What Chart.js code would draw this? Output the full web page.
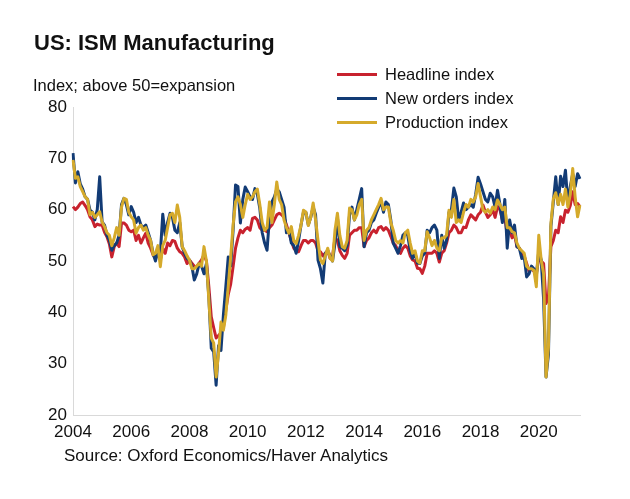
<!DOCTYPE html>
<html>
<head>
<meta charset="utf-8">
<script src="https://cdn.jsdelivr.net/npm/chart.js@4"></script>
<style>
  body { margin:0; background:#fff; font-family:"Liberation Sans", Arial, sans-serif; color:#111; }
  #wrap { position:relative; width:630px; height:499px; overflow:hidden; }
  #chart { position:absolute; left:0; top:0; }
  .txt { position:absolute; white-space:nowrap; }
  #title { left:34px; top:30px; font-size:22px; font-weight:bold; }
  #sub { left:33px; top:76px; font-size:16.5px; }
  #source { left:64px; top:446px; font-size:17px; }
  .leg { position:absolute; left:337px; font-size:16.5px; }
  .leg span { display:inline-block; width:40px; height:3px; vertical-align:middle; margin-right:8px; position:relative; top:-1px; }
</style>
</head>
<body>
<div id="wrap">
  <canvas id="chart" width="630" height="499"></canvas>
  <div class="txt" id="title">US: ISM Manufacturing</div>
  <div class="txt" id="sub">Index; above 50=expansion</div>
  <div class="leg" style="top:65px"><span style="background:#c8222e"></span>Headline index</div>
  <div class="leg" style="top:89px"><span style="background:#123b75"></span>New orders index</div>
  <div class="leg" style="top:113px"><span style="background:#d5aa2b"></span>Production index</div>
  <div class="txt" id="source">Source: Oxford Economics/Haver Analytics</div>
</div>
<script>
// monthly, Jan 2004 - Jun 2021
const years = [2004, 2005, 2006, 2007, 2008, 2009, 2010, 2011, 2012,
  2013, 2014, 2015, 2016, 2017, 2018, 2019, 2020, 2021]
const lastMonth = 6

const yTicks = [20, 30, 40, 50, 60, 70, 80]

const headline = [
  60.6, 60.0, 60.5, 61.2, 61.5, 60.8, 60.0, 58.6, 58.0, 56.7, 57.2, 57.0,
  57.0, 55.6, 54.7, 53.3, 50.8, 52.8, 53.5, 52.8, 57.4, 57.4, 57.0, 56.0,
  55.7, 56.0, 54.0, 55.0, 53.5, 54.5, 55.4, 53.5, 52.5, 51.2, 50.5, 51.5,
  50.2, 52.5, 51.5, 53.5, 53.0, 54.0, 53.8, 52.5, 51.8, 51.5, 50.8, 49.5,
  50.2, 49.6, 49.0, 48.9, 49.6, 50.2, 51.2, 50.0, 45.0, 39.1, 37.0, 35.0,
  35.5, 36.0, 37.0, 40.5, 43.5, 45.5, 48.9, 52.5, 54.5, 56.0, 55.5, 56.2,
  56.5, 56.0, 58.3, 58.5, 58.0, 56.5, 56.0, 56.0, 55.7, 56.5, 57.0, 58.0,
  59.0, 59.3, 59.0, 58.5, 57.0, 55.5, 54.0, 52.5, 52.0, 51.8, 53.0, 54.0,
  54.0, 53.5, 54.0, 54.0, 53.5, 52.0, 51.8, 51.0, 51.5, 52.0, 50.5, 51.0,
  54.5, 54.0, 52.0, 51.1, 50.5, 51.5, 55.0, 55.5, 56.0, 56.0, 56.5, 56.5,
  52.8, 54.0, 54.5, 55.5, 56.0, 55.5, 56.5, 56.7, 56.0, 56.5, 56.0, 54.8,
  53.5, 53.0, 52.0, 51.5, 52.5, 53.0, 52.5, 51.0, 50.2, 50.0, 48.6, 48.5,
  47.6, 49.0, 51.5, 51.5, 51.5, 52.0, 51.5, 49.8, 51.5, 52.0, 53.5, 55.5,
  56.0, 57.0, 56.5, 55.5, 55.5, 56.6, 56.5, 58.0, 59.0, 58.5, 58.0, 59.0,
  59.5, 60.9, 59.5, 58.5, 59.0, 60.0, 58.5, 60.6, 60.0, 58.0, 58.6, 55.0,
  56.0, 54.5, 55.2, 52.8, 52.5, 51.5, 51.0, 49.5, 48.0, 48.5, 48.0, 47.5,
  50.5, 50.0, 49.5, 41.7, 43.0, 52.8, 54.0, 56.0, 55.5, 58.6, 57.5, 59.9,
  59.5, 60.8, 63.5, 61.0, 61.2, 60.6
]

const newOrders = [
  71.0, 65.2, 67.4, 65.0, 64.0, 62.5, 62.0, 59.9, 59.5, 58.0, 60.0, 66.4,
  57.6, 57.0, 55.0, 54.0, 52.1, 53.0, 53.5, 55.0, 61.0, 62.2, 61.0, 59.0,
  60.6, 59.5, 57.5, 58.5, 57.0, 56.5, 57.0, 55.5, 54.0, 51.5, 50.0, 52.0,
  51.5, 59.1, 55.0, 57.5, 59.3, 58.5, 56.0, 55.5, 57.5, 52.8, 51.5, 50.5,
  50.2, 49.0, 46.3, 47.5, 49.5, 49.0, 47.5, 49.5, 43.0, 33.0, 32.3, 25.8,
  33.5, 32.6, 39.5, 45.0, 50.8, 49.0, 56.0, 64.8, 64.5, 57.4, 62.0, 64.4,
  63.5, 62.5, 62.0, 64.1, 63.0, 60.3, 55.5, 53.5, 52.1, 58.5, 61.5, 62.5,
  64.0, 63.5, 62.0, 60.5, 55.5, 56.0, 53.5, 53.0, 51.5, 54.0, 57.0, 59.5,
  59.5, 57.0, 58.5, 60.5, 59.0, 50.2, 48.5, 45.7, 51.5, 52.0, 51.0, 50.0,
  53.5, 58.5, 52.8, 52.5, 52.0, 53.0, 59.0, 60.5, 58.0, 60.0, 62.0, 64.1,
  52.8, 55.5, 56.0, 57.5, 58.0, 59.3, 60.5, 61.5, 59.5, 61.5, 61.0, 58.0,
  53.5, 52.5, 51.5, 53.0, 55.0, 55.5, 55.0, 52.0, 50.5, 51.5, 49.6, 49.5,
  51.0, 51.5, 56.0, 55.5, 56.5, 57.0, 56.0, 50.5, 55.0, 52.5, 54.0, 59.5,
  60.0, 64.2, 62.5, 58.0, 59.5, 61.3, 60.0, 60.5, 61.0, 60.5, 63.0, 66.3,
  65.0, 63.5, 62.0, 61.5, 63.2, 62.5, 60.5, 63.8, 61.0, 57.5, 62.0, 52.5,
  58.0, 55.5, 57.0, 52.8, 52.5, 50.5, 50.8, 46.9, 47.5, 49.0, 48.5, 47.0,
  52.0, 50.2, 42.5, 27.4, 31.8, 56.7, 61.5, 66.4, 61.0, 66.5, 64.5, 67.7,
  61.2, 64.5, 67.0, 64.5, 67.0, 66.0
]

const production = [
  69.7, 66.1, 66.4, 64.5, 63.5, 62.5, 62.0, 59.0, 59.5, 58.5, 59.0, 59.6,
  57.6, 56.7, 55.5, 55.0, 53.0, 54.5, 56.5, 55.0, 60.5, 62.2, 62.0, 59.5,
  58.6, 58.0, 55.4, 56.5, 57.0, 56.0, 56.5, 55.0, 54.0, 51.2, 51.5, 53.0,
  48.9, 53.0, 54.0, 56.5, 59.0, 59.3, 57.5, 60.9, 58.5, 52.8, 52.0, 51.0,
  50.2, 48.5, 48.5, 49.0, 49.5, 49.0, 52.8, 50.0, 42.4, 35.0, 34.0, 27.4,
  32.0, 38.1, 36.5, 39.5, 45.0, 50.8, 57.0, 61.5, 62.5, 61.0, 58.5, 61.0,
  63.0, 62.0, 62.5, 63.5, 64.0, 61.0, 57.5, 56.0, 56.5, 61.5, 57.5, 61.0,
  65.4, 62.0, 61.0, 58.0, 56.5, 55.4, 56.7, 54.0, 53.4, 55.0, 57.0, 59.9,
  59.5, 56.9, 58.5, 61.3, 58.0, 54.0, 50.2, 49.5, 51.0, 52.5, 50.5, 50.0,
  56.0, 59.3, 55.0, 52.8, 52.5, 54.0, 60.3, 60.0, 58.0, 59.0, 61.0, 62.0,
  54.0, 56.0, 56.5, 58.0, 59.0, 60.0, 61.0, 62.2, 60.0, 60.5, 60.5, 57.5,
  56.0, 54.0, 53.5, 54.0, 53.5, 55.5, 56.0, 53.5, 51.5, 52.0, 50.0, 49.6,
  52.0, 52.0, 55.7, 54.5, 53.0, 54.0, 52.5, 52.0, 54.5, 54.5, 55.0, 59.9,
  58.5, 62.0, 57.5, 58.0, 57.5, 59.5, 61.0, 60.5, 62.0, 61.5, 62.5, 65.1,
  62.5, 60.0, 59.5, 60.0, 59.3, 60.5, 60.0, 61.9, 61.0, 60.0, 60.5, 56.5,
  56.5, 55.7, 55.5, 53.5, 52.5, 52.0, 51.5, 49.0, 48.5, 48.5, 48.2, 45.0,
  55.0, 50.2, 47.5, 27.4, 33.2, 57.3, 62.1, 63.3, 61.0, 63.0, 61.0, 64.0,
  60.5, 63.0, 68.0, 62.5, 58.6, 60.9
]

// month labels like 2004-01
const months = []
years.forEach(y => {
  const n = y === 2021 ? lastMonth : 12
  for (let m = 1; m <= n; m++) {
    months.push(y + '-' + String(m).padStart(2, '0'))
  }
})

const tickFont = { family:'Liberation Sans', size:17 }

new Chart(document.getElementById('chart'), {

  type:'line',

  data:{
    labels:months,
    datasets:[
      { label:'Headline index', data:headline, borderColor:'#c8222e', order:3 },
      { label:'New orders index', data:newOrders, borderColor:'#123b75', order:2 },
      { label:'Production index', data:production, borderColor:'#d5aa2b', order:1 }
    ]
  },

  options:{
    responsive:false,
    animation:false,
    layout:{ padding:{ top:107, right:50, bottom:0, left:0 } },
    elements:{
      line:{ borderWidth:3, tension:0, borderJoinStyle:'round' },
      point:{ radius:0 }
    },
    plugins:{ legend:{ display:false }, tooltip:{ enabled:false } },
    scales:{
      x:{
        grid:{ display:false, drawTicks:false },
        border:{ color:'#d9d9d9' },
        ticks:{
          autoSkip:false,
          maxRotation:0,
          padding:7,
          color:'#111',
          font:tickFont,
          callback:function(v) {
            const lab = this.getLabelForValue(v)
            const yr = +lab.slice(0, 4)
            return (lab.endsWith('-01') && yr % 2 === 0) ? String(yr) : null
          }
        },
        afterFit:s => { s.height = 84 }
      },
      y:{
        min:yTicks[0],
        max:yTicks[yTicks.length - 1],
        grid:{ display:false, drawTicks:false },
        border:{ color:'#d9d9d9' },
        ticks:{ stepSize:10, padding:6, color:'#111', font:tickFont },
        afterFit:s => { s.width = 73 }
      }
    }
  }

})
</script>
</body>
</html>
